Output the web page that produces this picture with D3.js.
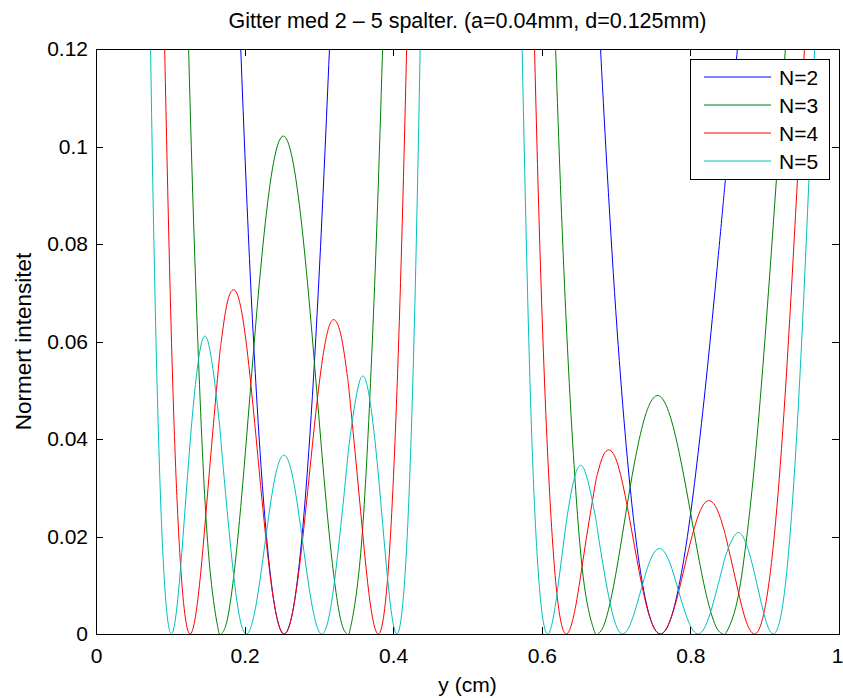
<!DOCTYPE html>
<html>
<head>
<meta charset="utf-8">
<script src="https://cdn.jsdelivr.net/npm/d3@7"></script>
<style>
  body { margin: 0; background: #fff; }
  text { font-family: "Liberation Sans", Arial, sans-serif; fill: #000; }
</style>
</head>
<body>
<div id="chart"></div>
<script>
const _ = null;

// y positions on the screen (cm), left group | gap | right group
const yCm = [
  0.0633, 0.0760, 0.0886, 0.1013, 0.1139, 0.1266, 0.1393, 0.1519, 0.1646, 0.1688, 0.1772,
  0.1899, 0.2026, 0.2152, 0.2279, 0.2405, 0.2532, 0.2659, 0.2785, 0.2912, 0.3038, 0.3165,
  0.3292, 0.3376, 0.3418, 0.3545, 0.3671, 0.3798, 0.3925, 0.4051, 0.4178, 0.4304, 0.4431,
  0.5064,
  0.5697, 0.5824, 0.5950, 0.6077, 0.6203, 0.6330, 0.6457, 0.6583, 0.6710, 0.6752, 0.6836,
  0.6963, 0.7090, 0.7216, 0.7343, 0.7469, 0.7596, 0.7723, 0.7849, 0.7976, 0.8102, 0.8229,
  0.8355, 0.8440, 0.8482, 0.8609, 0.8735, 0.8862, 0.8988, 0.9115, 0.9242, 0.9368, 0.9495,
  0.9621, 0.9748
];

const n2 = [
  _, _, _, _, _, _, _, _, _, _, _,
  0.1396, 0.0905, 0.0513, 0.0228, 0.0057, 0, 0.0056, 0.0221, 0.0487, 0.0845, 0.1281,
  _, _, _, _, _, _, _, _, _, _, _,
  _,
  _, _, _, _, _, _, _, _, _,
  0.1319, 0.1069, 0.0739, 0.0469, 0.0261, 0.0114, 0.0028, 0, 0.0026, 0.0101, 0.0217,
  0.0369, 0.0546, 0.0743, 0.0881, 0.0951, 0.1161, 0.1365,
  _, _, _, _, _, _, _, _
];

const n3 = [
  _, _, _, _,
  0.1883, 0.1088, 0.0512, 0.0157, 0.0009, 0, 0.0033, 0.0182, 0.0402, 0.0639, 0.0844,
  0.0979, 0.1021, 0.0962, 0.0816, 0.0607, 0.0375, 0.0167, 0.0030, 0, 0.0008, 0.0137,
  0.0438, 0.0916, 0.1557,
  _, _, _, _,
  _,
  _, _, _,
  0.1745, 0.1123, 0.0636, 0.0294, 0.0088, 0.0005, 0, 0.0018, 0.0096, 0.0209, 0.0325,
  0.0420, 0.0477, 0.0487, 0.0449, 0.0372, 0.0271, 0.0164, 0.0071, 0.0012, 0, 0.0003,
  0.0054, 0.0170, 0.0346, 0.0574, 0.0839, 0.1120, 0.1397,
  _, _, _
];

const n4 = [
  _, _,
  0.1483, 0.0617, 0.0139, 0, 0.0101, 0.0320, 0.0543, 0.0602, 0.0683, 0.0698, 0.0592,
  0.0407, 0.0207, 0.0056, 0, 0.0055, 0.0200, 0.0387, 0.0553, 0.0641, 0.0616, 0.0537,
  0.0481, 0.0279, 0.0086, 0, 0.0115, 0.0501, 0.1184, 0.2137,
  _,
  _,
  _,
  0.1719, 0.0919, 0.0375, 0.0083, 0, 0.0058, 0.0180, 0.0299, 0.0330, 0.0369, 0.0370,
  0.0307, 0.0207, 0.0103, 0.0027, 0, 0.0026, 0.0091, 0.0173, 0.0241, 0.0273, 0.0257,
  0.0220, 0.0196, 0.0111, 0.0033, 0, 0.0042, 0.0180, 0.0415, 0.0729, 0.1087, 0.1443,
  _
];

const n5 = [
  0.2319, 0.0963, 0.0212, 0, 0.0137, 0.0392, 0.0576, 0.0593, 0.0453, 0.0385, 0.0242,
  0.0065, 0, 0.0058, 0.0191, 0.0318, 0.0367, 0.0313, 0.0185, 0.0055, 0, 0.0060,
  0.0218, 0.0344, 0.0402, 0.0517, 0.0493, 0.0330, 0.0113, 0, 0.0170, 0.0756, 0.1789,
  _,
  0.1492, 0.0608, 0.0132, 0, 0.0081, 0.0229, 0.0330, 0.0333, 0.0250, 0.0211, 0.0131,
  0.0035, 0, 0.0030, 0.0095, 0.0155, 0.0175, 0.0146, 0.0084, 0.0025, 0, 0.0026,
  0.0091, 0.0141, 0.0164, 0.0205, 0.0191, 0.0125, 0.0042, 0, 0.0059, 0.0258, 0.0593,
  0.1021, 0.1460
];

const seriesNames = ["N=2", "N=3", "N=4", "N=5"];
const seriesColors = ["#0000ff", "#008000", "#ff0000", "#00bfbf"];
const xTicks = [0, 0.2, 0.4, 0.6, 0.8, 1];
const yTicks = [0, 0.02, 0.04, 0.06, 0.08, 0.1, 0.12];

const titleText = "Gitter med 2 \u2013 5 spalter. (a=0.04mm, d=0.125mm)";
const xLabel = "y (cm)";
const yLabel = "Normert intensitet";

const width = 843;
const height = 698;
const margin = { top: 49, right: 4, bottom: 64, left: 96 };
const w = width - margin.left - margin.right;
const h = height - margin.top - margin.bottom;
const fontSize = 21;

const svg = d3.select("#chart").append("svg")
  .attr("width", width)
  .attr("height", height);

const g = svg.append("g")
  .attr("transform", `translate(${margin.left},${margin.top})`);

const x = d3.scaleLinear().domain([0, 1]).range([0, w]);
const y = d3.scaleLinear().domain([0, 0.12]).range([h, 0]);

g.append("defs").append("clipPath")
  .attr("id", "plot-clip")
  .append("rect")
  .attr("width", w)
  .attr("height", h);

// curves
const allSeries = [n2, n3, n4, n5].map((vals, i) => ({
  name: seriesNames[i],
  color: seriesColors[i],
  points: yCm.map((yc, j) => ({ x: yc, v: vals[j] }))
}));

const line = d3.line()
  .defined(d => d.v !== null)
  .x(d => x(d.x))
  .y(d => y(d.v))
  .curve(d3.curveNatural);

g.append("g")
  .attr("clip-path", "url(#plot-clip)")
  .selectAll("path")
  .data(allSeries)
  .enter().append("path")
  .attr("d", d => line(d.points))
  .attr("fill", "none")
  .attr("stroke", d => d.color)
  .attr("stroke-width", 1);

// axes, ticks point inward like matlab
const tick = 7;
const fmt = d3.format("~g");

const styleAxis = sel => {
  sel.select(".domain").remove();
  sel.selectAll("line").attr("stroke", "#000").attr("shape-rendering", "crispEdges");
  sel.selectAll("text").style("font-size", fontSize + "px").attr("fill", "#000");
};

const xAxis = g.append("g")
  .attr("transform", `translate(0,${h})`)
  .call(d3.axisBottom(x).tickValues(xTicks).tickFormat(fmt).tickSizeInner(-tick).tickSizeOuter(0).tickPadding(14))
  .call(styleAxis);

// keep the last label inside the window
xAxis.selectAll(".tick text")
  .filter(d => d === 1)
  .attr("text-anchor", "end")
  .attr("x", 4);

g.append("g")
  .call(d3.axisTop(x).tickValues(xTicks).tickFormat("").tickSizeInner(-tick).tickSizeOuter(0))
  .call(styleAxis);

g.append("g")
  .call(d3.axisLeft(y).tickValues(yTicks).tickFormat(fmt).tickSizeInner(-tick).tickSizeOuter(0).tickPadding(8))
  .call(styleAxis);

g.append("g")
  .attr("transform", `translate(${w},0)`)
  .call(d3.axisRight(y).tickValues(yTicks).tickFormat("").tickSizeInner(-tick).tickSizeOuter(0))
  .call(styleAxis);

g.append("rect")
  .attr("width", w)
  .attr("height", h)
  .attr("fill", "none")
  .attr("stroke", "#000")
  .attr("stroke-width", 1)
  .attr("shape-rendering", "crispEdges");

// title and labels
svg.append("text")
  .attr("x", margin.left + w / 2)
  .attr("y", 28)
  .attr("text-anchor", "middle")
  .style("font-size", "21.5px")
  .text(titleText);

svg.append("text")
  .attr("x", margin.left + w / 2)
  .attr("y", 692)
  .attr("text-anchor", "middle")
  .style("font-size", fontSize + "px")
  .text(xLabel);

svg.append("text")
  .attr("transform", "rotate(-90)")
  .attr("x", -(margin.top + h / 2))
  .attr("y", 31)
  .attr("text-anchor", "middle")
  .style("font-size", "22.5px")
  .text(yLabel);

// legend
const legend = svg.append("g")
  .attr("transform", "translate(690,59)");

legend.append("rect")
  .attr("width", 139)
  .attr("height", 120)
  .attr("fill", "#fff")
  .attr("stroke", "#000")
  .attr("shape-rendering", "crispEdges");

const rows = legend.selectAll(".row")
  .data(allSeries)
  .enter().append("g")
  .attr("class", "row")
  .attr("transform", (d, i) => `translate(0,${18 + i * 28})`);

rows.append("line")
  .attr("x1", 14)
  .attr("x2", 81)
  .attr("stroke", d => d.color)
  .attr("stroke-width", 1);

rows.append("text")
  .attr("x", 89)
  .attr("dy", "0.36em")
  .style("font-size", fontSize + "px")
  .text(d => d.name);
</script>
</body>
</html>
